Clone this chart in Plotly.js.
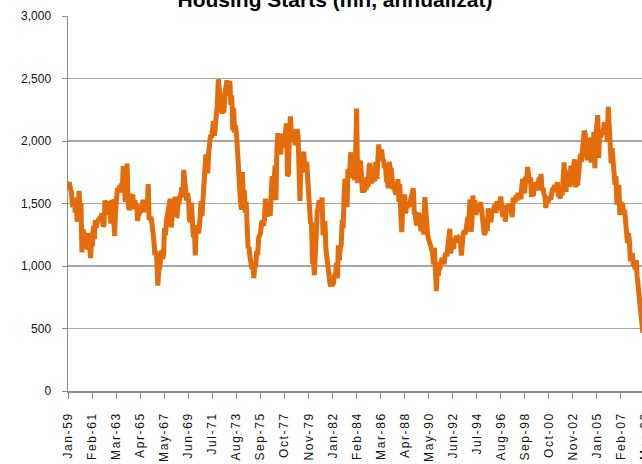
<!DOCTYPE html>
<html>
<head>
<meta charset="utf-8">
<script src="https://cdn.plot.ly/plotly-3.0.1.min.js"></script>
<style>
html,body{margin:0;padding:0;overflow:hidden;background:#fff;}
#chart{width:700px;height:464px;}
#chart .xtick text{letter-spacing:1.6px;}
</style>
</head>
<body>
<div id="chart"></div>
<script>
// Monthly US housing starts (thousands, SAAR), Jan-59 .. Jan-09
const starts1959_1968 = [
  1657,1667,1620,1590,1498,1503,1547,1430,1540,1355,1416,1601,
  1460,1503,1109,1289,1266,1231,1164,1167,1135,1262,1180,1064,
  1190,1186,1320,1216,1366,1308,1356,1364,1367,1386,1378,1423,
  1316,1328,1525,1484,1491,1409,1452,1520,1339,1526,1516,1380,
  1240,1437,1580,1625,1599,1640,1590,1660,1603,1800,1731,1512,
  1603,1820,1517,1448,1467,1550,1562,1569,1455,1524,1486,1484,
  1361,1433,1423,1438,1478,1488,1529,1432,1482,1452,1460,1656,
  1370,1378,1394,1352,1265,1194,1086,1119,1046,843,961,990,
  1067,1123,1056,1091,1304,1248,1364,1407,1421,1491,1538,1308,
  1380,1520,1466,1554,1408,1405,1512,1495,1556,1569,1630,1548
];
const starts1969_1978 = [
  1769,1705,1561,1524,1583,1528,1368,1358,1507,1381,1229,1327,
  1085,1305,1319,1264,1290,1385,1517,1399,1534,1580,1647,1893,
  1828,1741,1910,1986,2049,2026,2083,2158,2041,2128,2182,2295,
  2494,2390,2334,2249,2221,2254,2252,2382,2481,2485,2421,2366,
  2481,2289,2365,2084,2266,2067,2123,2051,1874,1677,1724,1526,
  1451,1752,1555,1607,1426,1513,1316,1142,1150,1070,1026,975,
  1032,904,993,1005,1121,1087,1226,1260,1264,1344,1360,1321,
  1367,1538,1421,1395,1459,1495,1401,1550,1720,1629,1641,1804,
  1527,1943,2063,1892,1971,1893,2058,2020,1949,2042,2042,2142,
  1718,1738,2032,2197,2075,2070,2092,1996,1970,1981,2094,2044
];
const starts1979_1988 = [
  1630,1520,1847,1748,1876,1913,1760,1778,1832,1681,1524,1498,
  1341,1350,1047,1051,927,1196,1269,1436,1471,1523,1510,1482,
  1547,1246,1306,1360,1140,1045,940,911,873,837,910,
  843,866,931,917,1025,902,1166,1046,1144,1173,1372,1303,
  1586,1699,1606,1472,1776,1733,1785,1910,1710,1715,1785,1688,
  1897,2260,1663,1851,1774,1843,1732,1586,1698,1590,1689,1612,
  1711,1632,1800,1821,1680,1676,1684,1743,1676,1834,1698,1942,
  1972,1848,1876,1933,1854,1847,1782,1807,1687,1681,1623,1833,
  1774,1784,1726,1614,1628,1594,1575,1605,1695,1515,1656,1400,
  1271,1473,1532,1573,1421,1478,1467,1493,1492,1522,1569,1563
];
const starts1989_1998 = [
  1621,1425,1422,1339,1331,1397,1427,1332,1279,1410,1351,1251,
  1551,1437,1289,1248,1212,1177,1171,1115,1110,1014,1145,969,
  798,965,921,1001,996,1036,1063,1049,1015,1079,1103,1079,
  1176,1250,1297,1099,1214,1145,1139,1226,1186,1244,1214,1227,
  1210,1210,1083,1258,1260,1280,1254,1300,1343,1392,1376,1533,
  1272,1337,1564,1465,1526,1409,1439,1450,1474,1450,1511,1455,
  1407,1316,1249,1267,1314,1281,1461,1416,1369,1369,1452,1431,
  1467,1491,1424,1516,1504,1467,1472,1557,1475,1392,1489,1370,
  1355,1486,1457,1492,1442,1494,1437,1390,1546,1520,1510,1566,
  1525,1584,1567,1540,1536,1641,1698,1614,1582,1715,1660,1792
];
const starts1999_2009 = [
  1748,1670,1710,1553,1611,1559,1669,1648,1635,1608,1648,1708,
  1636,1737,1604,1626,1575,1559,1463,1541,1507,1549,1551,1532,
  1600,1625,1590,1649,1605,1636,1670,1567,1562,1540,1602,1568,
  1698,1829,1642,1592,1764,1717,1655,1633,1804,1648,1753,1788,
  1853,1629,1726,1643,1751,1867,1897,1833,1939,1967,2083,2057,
  1911,1846,1998,2003,1981,1828,2024,1905,2072,1782,2042,
  2144,2207,1864,2061,2025,2068,2054,2095,2151,2065,2147,1994,
  2273,2119,1969,1821,1942,1802,1737,1650,1720,1491,1570,1649,
  1409,1480,1495,1490,1415,1448,1354,1330,1183,1264,1197,1037,
  1084,1103,1005,1013,973,1046,923,844,820,777,652,560,
  466
];
const tickLabels = ["Jan-59","Feb-61","Mar-63","Apr-65","May-67","Jun-69","Jul-71","Aug-73",
  "Sep-75","Oct-77","Nov-79","Jan-82","Feb-84","Mar-86","Apr-88","May-90","Jun-92","Jul-94",
  "Aug-96","Sep-98","Oct-00","Nov-02","Jan-05","Feb-07","Mar-09"];
const labelStep = 25;
const yTicks = [0,500,1000,1500,2000,2500,3000];

const starts = [].concat(starts1959_1968, starts1969_1978, starts1979_1988, starts1989_1998, starts1999_2009);
const xs = starts.map((_, i) => i);
const tickVals = tickLabels.map((_, i) => i * labelStep);

const W = 700, H = 464, L = 68, T = 16, B = 72.5;
const xMax = 620, pxPer = 0.96;
const plotW = (xMax + 0.5) * pxPer;
const font = 'Liberation Sans, Arial, sans-serif';

Plotly.newPlot('chart', [{
  x: xs, y: starts, type: 'scatter', mode: 'lines',
  line: {color: '#E46C0A', width: 5}, hoverinfo: 'skip'
}], {
  width: W, height: H,
  margin: {l: L, r: W - L - plotW, t: T, b: B, pad: 0},
  paper_bgcolor: '#fff', plot_bgcolor: '#fff',
  showlegend: false,
  title: {
    text: '<b>Housing Starts (mn, annualizat)</b>',
    font: {family: font, size: 21, color: '#000'},
    xref: 'container', x: 335 / W, xanchor: 'center',
    yref: 'container', y: 1, yanchor: 'middle'
  },
  xaxis: {
    range: [-0.5, xMax], tickmode: 'array', tickvals: tickVals, ticktext: tickLabels,
    tickangle: -90, ticks: 'outside', ticklen: 6, tickcolor: '#8c8c8c', tickwidth: 1,
    showline: true, linecolor: '#8c8c8c', linewidth: 1.5, showgrid: false, zeroline: false,
    tickfont: {family: font, size: 12, color: '#111'}, ticklabelstandoff: 9
  },
  yaxis: {
    range: [0, 3000], tickmode: 'array', tickvals: yTicks, tickformat: ',d',
    ticks: 'outside', ticklen: 5, tickcolor: '#8c8c8c',
    showline: true, linecolor: '#8c8c8c', linewidth: 1.5,
    showgrid: true, gridcolor: '#a6a6a6', gridwidth: 1.2, zeroline: false,
    tickfont: {family: font, size: 12, color: '#111'}, ticklabelstandoff: 8
  }
}, {displayModeBar: false, staticPlot: true});
</script>
</body>
</html>
